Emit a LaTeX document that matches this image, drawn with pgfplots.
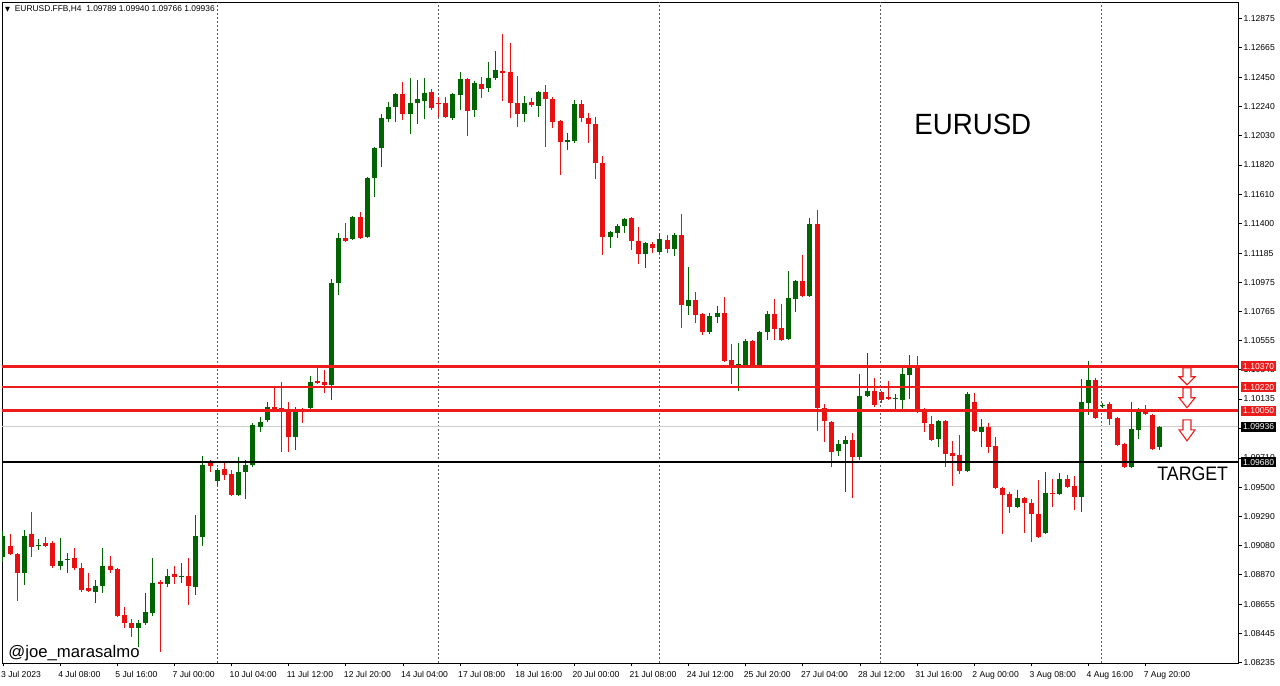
\documentclass[border=0pt]{standalone}
\usepackage{pgfplots}
\pgfplotsset{compat=1.18}
\usepackage{pgfplotstable}
\usepackage{fontspec}
\setmainfont{Liberation Sans}
\newfontfamily\dejavu{DejaVu Sans}
\definecolor{cgreen}{RGB}{0,100,0}
\definecolor{cred}{RGB}{232,16,16}
\definecolor{lred}{RGB}{236,28,28}
\definecolor{sepgray}{RGB}{90,90,90}

\pgfplotstableread{
i o h l c
0 1.08998 1.09185 1.08962 1.09149
1 1.09077 1.09164 1.09013 1.09020
2 1.09020 1.09027 1.08682 1.08883
3 1.08883 1.09193 1.08797 1.09149
4 1.09164 1.09322 1.08998 1.09070
5 1.09077 1.09128 1.09049 1.09085
6 1.09099 1.09142 1.09070 1.09077
7 1.09099 1.09113 1.08919 1.08934
8 1.08934 1.09135 1.08905 1.08969
9 1.08977 1.09027 1.08883 1.08984
10 1.08991 1.09063 1.08905 1.08919
11 1.08919 1.08955 1.08746 1.08761
12 1.08775 1.08883 1.08746 1.08754
13 1.08746 1.08833 1.08667 1.08790
14 1.08790 1.09063 1.08739 1.08934
15 1.08934 1.09005 1.08883 1.08905
16 1.08912 1.08919 1.08566 1.08574
17 1.08581 1.08638 1.08487 1.08523
18 1.08523 1.08552 1.08423 1.08487
19 1.08487 1.08545 1.08351 1.08523
20 1.08523 1.08739 1.08509 1.08602
21 1.08595 1.08991 1.08574 1.08811
22 1.08818 1.08833 1.08315 1.08804
23 1.08804 1.08912 1.08782 1.08862
24 1.08876 1.08934 1.08804 1.08854
25 1.08854 1.08955 1.08811 1.08862
26 1.08862 1.08991 1.08653 1.08790
27 1.08782 1.09300 1.08725 1.09149
28 1.09142 1.09725 1.09077 1.09660
29 1.09675 1.09696 1.09610 1.09653
30 1.09545 1.09639 1.09509 1.09624
31 1.09631 1.09675 1.09552 1.09588
32 1.09596 1.09624 1.09437 1.09444
33 1.09444 1.09718 1.09437 1.09610
34 1.09610 1.09696 1.09416 1.09660
35 1.09660 1.09963 1.09646 1.09948
36 1.09934 1.10006 1.09898 1.09970
37 1.09984 1.10114 1.09970 1.10078
38 1.10078 1.10215 1.10042 1.10056
39 1.10070 1.10258 1.09754 1.10049
40 1.10056 1.10114 1.09754 1.09862
41 1.09862 1.10078 1.09768 1.10056
42 1.10056 1.10070 1.09963 1.10049
43 1.10070 1.10301 1.10056 1.10258
44 1.10265 1.10359 1.10244 1.10251
45 1.10258 1.10344 1.10179 1.10236
46 1.10236 1.10999 1.10128 1.10970
47 1.10970 1.11330 1.10884 1.11294
48 1.11294 1.11402 1.11265 1.11272
49 1.11287 1.11452 1.11280 1.11445
50 1.11445 1.11481 1.11287 1.11294
51 1.11301 1.11733 1.11294 1.11726
52 1.11726 1.11949 1.11589 1.11942
53 1.11942 1.12187 1.11805 1.12158
54 1.12151 1.12273 1.12129 1.12237
55 1.12237 1.12338 1.12129 1.12331
56 1.12331 1.12417 1.12143 1.12187
57 1.12187 1.12446 1.12043 1.12266
58 1.12266 1.12431 1.12115 1.12295
59 1.12280 1.12446 1.12151 1.12338
60 1.12345 1.12366 1.12215 1.12230
61 1.12266 1.12309 1.12165 1.12259
62 1.12266 1.12309 1.12158 1.12165
63 1.12158 1.12338 1.12143 1.12331
64 1.12323 1.12489 1.12215 1.12438
65 1.12438 1.12446 1.12028 1.12208
66 1.12215 1.12424 1.12165 1.12410
67 1.12403 1.12453 1.12302 1.12367
68 1.12374 1.12561 1.12345 1.12446
69 1.12446 1.12640 1.12431 1.12503
70 1.12496 1.12762 1.12280 1.12482
71 1.12489 1.12698 1.12158 1.12266
72 1.12266 1.12460 1.12093 1.12187
73 1.12187 1.12316 1.12129 1.12266
74 1.12273 1.12302 1.12237 1.12251
75 1.12244 1.12352 1.12165 1.12345
76 1.12345 1.12395 1.11949 1.12295
77 1.12295 1.12309 1.12086 1.12129
78 1.12136 1.12143 1.11748 1.11985
79 1.11985 1.12050 1.11928 1.11999
80 1.11992 1.12287 1.11978 1.12259
81 1.12259 1.12287 1.12129 1.12158
82 1.12158 1.12194 1.11978 1.12115
83 1.12115 1.12165 1.11719 1.11834
84 1.11834 1.11884 1.11172 1.11301
85 1.11301 1.11344 1.11222 1.11337
86 1.11330 1.11395 1.11294 1.11381
87 1.11381 1.11438 1.11330 1.11431
88 1.11438 1.11445 1.11208 1.11272
89 1.11272 1.11373 1.11107 1.11179
90 1.11179 1.11265 1.11078 1.11258
91 1.11251 1.11265 1.11186 1.11222
92 1.11193 1.11330 1.11186 1.11287
93 1.11280 1.11316 1.11186 1.11215
94 1.11215 1.11330 1.11165 1.11316
95 1.11316 1.11467 1.10646 1.10812
96 1.10805 1.11085 1.10740 1.10848
97 1.10848 1.10906 1.10682 1.10740
98 1.10748 1.10755 1.10596 1.10617
99 1.10617 1.10755 1.10603 1.10733
100 1.10726 1.10805 1.10682 1.10755
101 1.10755 1.10870 1.10402 1.10409
102 1.10416 1.10531 1.10244 1.10359
103 1.10366 1.10538 1.10193 1.10387
104 1.10366 1.10567 1.10359 1.10553
105 1.10553 1.10560 1.10359 1.10366
106 1.10366 1.10625 1.10359 1.10617
107 1.10617 1.10769 1.10560 1.10748
108 1.10748 1.10856 1.10560 1.10639
109 1.10646 1.10820 1.10553 1.10560
110 1.10567 1.11057 1.10560 1.10863
111 1.10856 1.10992 1.10762 1.10985
112 1.10985 1.11172 1.10870 1.10877
113 1.10877 1.11438 1.10870 1.11395
114 1.11395 1.11496 1.09905 1.10070
115 1.10070 1.10099 1.09826 1.09977
116 1.09970 1.09977 1.09646 1.09754
117 1.09761 1.09840 1.09725 1.09812
118 1.09812 1.09869 1.09466 1.09840
119 1.09840 1.09891 1.09423 1.09718
120 1.09718 1.10315 1.09696 1.10157
121 1.10157 1.10466 1.10150 1.10193
122 1.10193 1.10287 1.10078 1.10092
123 1.10186 1.10193 1.10106 1.10128
124 1.10150 1.10265 1.10128 1.10135
125 1.10135 1.10171 1.10042 1.10142
126 1.10128 1.10359 1.10042 1.10315
127 1.10308 1.10452 1.10135 1.10366
128 1.10366 1.10445 1.10035 1.10042
129 1.10056 1.10070 1.09898 1.09963
130 1.09956 1.10013 1.09833 1.09840
131 1.09848 1.09984 1.09790 1.09977
132 1.09977 1.09984 1.09646 1.09740
133 1.09747 1.09833 1.09509 1.09725
134 1.09732 1.09876 1.09596 1.09617
135 1.09617 1.10186 1.09610 1.10171
136 1.10114 1.10179 1.09898 1.09905
137 1.09898 1.09992 1.09790 1.09934
138 1.09934 1.09963 1.09747 1.09790
139 1.09797 1.09862 1.09488 1.09495
140 1.09495 1.09502 1.09164 1.09444
141 1.09452 1.09466 1.09315 1.09358
142 1.09358 1.09480 1.09351 1.09423
143 1.09423 1.09430 1.09171 1.09387
144 1.09387 1.09416 1.09106 1.09308
145 1.09308 1.09552 1.09135 1.09142
146 1.09171 1.09610 1.09164 1.09459
147 1.09459 1.09560 1.09358 1.09452
148 1.09452 1.09603 1.09444 1.09560
149 1.09560 1.09588 1.09495 1.09502
150 1.09509 1.09581 1.09337 1.09430
151 1.09430 1.10279 1.09322 1.10114
152 1.10106 1.10409 1.10020 1.10272
153 1.10272 1.10287 1.09991 1.09999
154 1.10085 1.10106 1.10070 1.10092
155 1.10099 1.10114 1.09948 1.09991
156 1.09999 1.10006 1.09797 1.09804
157 1.09812 1.09819 1.09639 1.09646
158 1.09646 1.10114 1.09639 1.09919
159 1.09912 1.10070 1.09848 1.10049
160 1.10049 1.10092 1.10020 1.10027
161 1.10020 1.10027 1.09768 1.09776
162 1.09789 1.09940 1.09766 1.09936
}\candles

\pgfplotsset{
  wick/.style={only marks, mark=*, mark size=0pt, mark options={draw=none, fill=none},
    error bars/y dir=plus, error bars/y explicit, error bars/error mark=none,
    error bars/error bar style={line width=1pt}},
  body/.style={only marks, mark=*, mark size=0pt, mark options={draw=none, fill=none},
    error bars/y dir=plus, error bars/y explicit, error bars/error mark=none,
    error bars/error bar style={line width=5pt}},
}

\begin{document}
\begin{tikzpicture}
\begin{axis}[
  scale only axis, width=1236pt, height=661pt,
  xmin=-0.14, xmax=172.94, ymin=1.08233, ymax=1.12993,
  axis line style={black, line width=0.8pt},
  xtick={0,8,...,160},
  xticklabels={3 Jul 2023,4 Jul 08:00,5 Jul 16:00,7 Jul 00:00,10 Jul 04:00,11 Jul 12:00,12 Jul 20:00,14 Jul 04:00,17 Jul 08:00,18 Jul 16:00,20 Jul 00:00,21 Jul 08:00,24 Jul 12:00,25 Jul 20:00,27 Jul 04:00,28 Jul 12:00,31 Jul 16:00,2 Aug 00:00,3 Aug 08:00,4 Aug 16:00,7 Aug 20:00},
  ytick={1.12875,1.12665,1.12450,1.12240,1.12030,1.11820,1.11610,1.11400,1.11185,1.10975,1.10765,1.10555,1.10345,1.10135,1.09925,1.09710,1.09500,1.09290,1.09080,1.08870,1.08655,1.08445,1.08235},
  yticklabels={1.12875,1.12665,1.12450,1.12240,1.12030,1.11820,1.11610,1.11400,1.11185,1.10975,1.10765,1.10555,1.10345,1.10135,1.09925,1.09710,1.09500,1.09290,1.09080,1.08870,1.08655,1.08445,1.08235},
  scaled y ticks=false,
  xtick pos=bottom, ytick pos=right, yticklabel pos=right,
  tick align=outside, major tick length=3.5pt,
  tick style={black, line width=0.7pt},
  xticklabel style={anchor=north west, inner sep=0pt, xshift=-2pt, yshift=-5pt, font=\fontsize{8.6}{9}\selectfont},
  yticklabel style={anchor=west, inner sep=0pt, xshift=2pt, font=\fontsize{8.6}{9}\selectfont},
]
% week separators
\pgfplotsinvokeforeach{30.0,60.94,91.88,122.82,153.76}{
  \draw[sepgray, line width=0.9pt, dash pattern=on 2pt off 2pt] (axis cs:#1,1.08233) -- (axis cs:#1,1.12993);
}
% bid line
\addplot[color={rgb,255:red,205;green,205;blue,205}, line width=1pt] coordinates {(-1,1.09936) (180,1.09936)};

% candles: wicks
\addplot[cgreen, wick, restrict expr to domain={\thisrow{c}-\thisrow{o}}{0:1}]
  table[x=i, y=l, y error plus expr={\thisrow{h}-\thisrow{l}}] {\candles};
\addplot[cred, wick, restrict expr to domain={\thisrow{o}-\thisrow{c}}{0.0000001:1}]
  table[x=i, y=l, y error plus expr={\thisrow{h}-\thisrow{l}}] {\candles};
% candles: bodies
\addplot[cgreen, body, restrict expr to domain={\thisrow{c}-\thisrow{o}}{0:1}]
  table[x=i, y=o, y error plus expr={max(\thisrow{c}-\thisrow{o},0.00002)}] {\candles};
\addplot[cred, body, restrict expr to domain={\thisrow{o}-\thisrow{c}}{0.0000001:1}]
  table[x=i, y=c, y error plus expr={max(\thisrow{o}-\thisrow{c},0.00002)}] {\candles};

% levels
\addplot[lred, line width=2.6pt] coordinates {(-1,1.10370) (180,1.10370)};
\addplot[lred, line width=2.6pt] coordinates {(-1,1.10220) (180,1.10220)};
\addplot[lred, line width=2.6pt] coordinates {(-1,1.10050) (180,1.10050)};
\addplot[black, line width=2.6pt] coordinates {(-1,1.09680) (180,1.09680)};

% texts
\node[font=\fontsize{29.3}{30}\selectfont, xscale=0.945, inner sep=0pt] at (axis cs:135.8,1.12111) {EURUSD};
\node[font=\fontsize{19.5}{20}\selectfont, xscale=0.91, inner sep=0pt] at (axis cs:166.6,1.09599) {TARGET};
\node[font=\fontsize{16.7}{17}\selectfont, anchor=west, inner sep=0pt] at (axis cs:0.74,1.08307) {@joe\_marasalmo};

\coordinate (BL) at (rel axis cs:0,0);
\coordinate (TR) at (rel axis cs:1,1);
\coordinate (TL) at (rel axis cs:0,1);
\coordinate (A1) at (axis cs:165.8,1.10294);
\coordinate (A2) at (axis cs:165.8,1.10143);
\coordinate (A3) at (axis cs:165.8,1.09912);
\coordinate (P1) at (axis cs:172.94,1.10370);
\coordinate (P2) at (axis cs:172.94,1.10220);
\coordinate (P3) at (axis cs:172.94,1.10050);
\coordinate (P4) at (axis cs:172.94,1.09936);
\coordinate (P5) at (axis cs:172.94,1.09680);
\end{axis}

% hollow down arrows
\begin{scope}[lred, line width=1.1pt, fill=white, line join=miter]
\filldraw[shift={(A1)}] (-4pt,9pt) -- (4pt,9pt) -- (4pt,0pt) -- (8pt,0pt) -- (0pt,-8pt) -- (-8pt,0pt) -- (-4pt,0pt) -- cycle;
\filldraw[shift={(A2)}] (-4pt,10pt) -- (4pt,10pt) -- (4pt,0pt) -- (8pt,0pt) -- (0pt,-10pt) -- (-8pt,0pt) -- (-4pt,0pt) -- cycle;
\filldraw[shift={(A3)}] (-4pt,10pt) -- (4pt,10pt) -- (4pt,0pt) -- (8pt,0pt) -- (0pt,-11pt) -- (-8pt,0pt) -- (-4pt,0pt) -- cycle;
\end{scope}

\node[anchor=west, inner sep=0pt, font=\fontsize{8.4}{9}\selectfont] at ([xshift=3pt,yshift=-7pt]TL) {{\dejavu\fontsize{6.5}{7}\selectfont ▼}\ \ EURUSD.FFB,H4\ \ 1.09789 1.09940 1.09766 1.09936};

\tikzset{pbox/.style={anchor=west, inner sep=0pt, minimum height=10pt, minimum width=35pt, text=white, font=\fontsize{8.6}{9}\selectfont}}
\node[pbox, fill=lred] at ([xshift=3pt]P1) {1.10370};
\node[pbox, fill=lred] at ([xshift=3pt]P2) {1.10220};
\node[pbox, fill=lred] at ([xshift=3pt]P3) {1.10050};
\node[pbox, fill=black] at ([xshift=3pt]P4) {1.09936};
\node[pbox, fill=black] at ([xshift=3pt]P5) {1.09680};

\pgfresetboundingbox
\path[use as bounding box] ([shift={(-2pt,-23pt)}]BL) rectangle ([shift={(42pt,2pt)}]TR);
\end{tikzpicture}
\end{document}
